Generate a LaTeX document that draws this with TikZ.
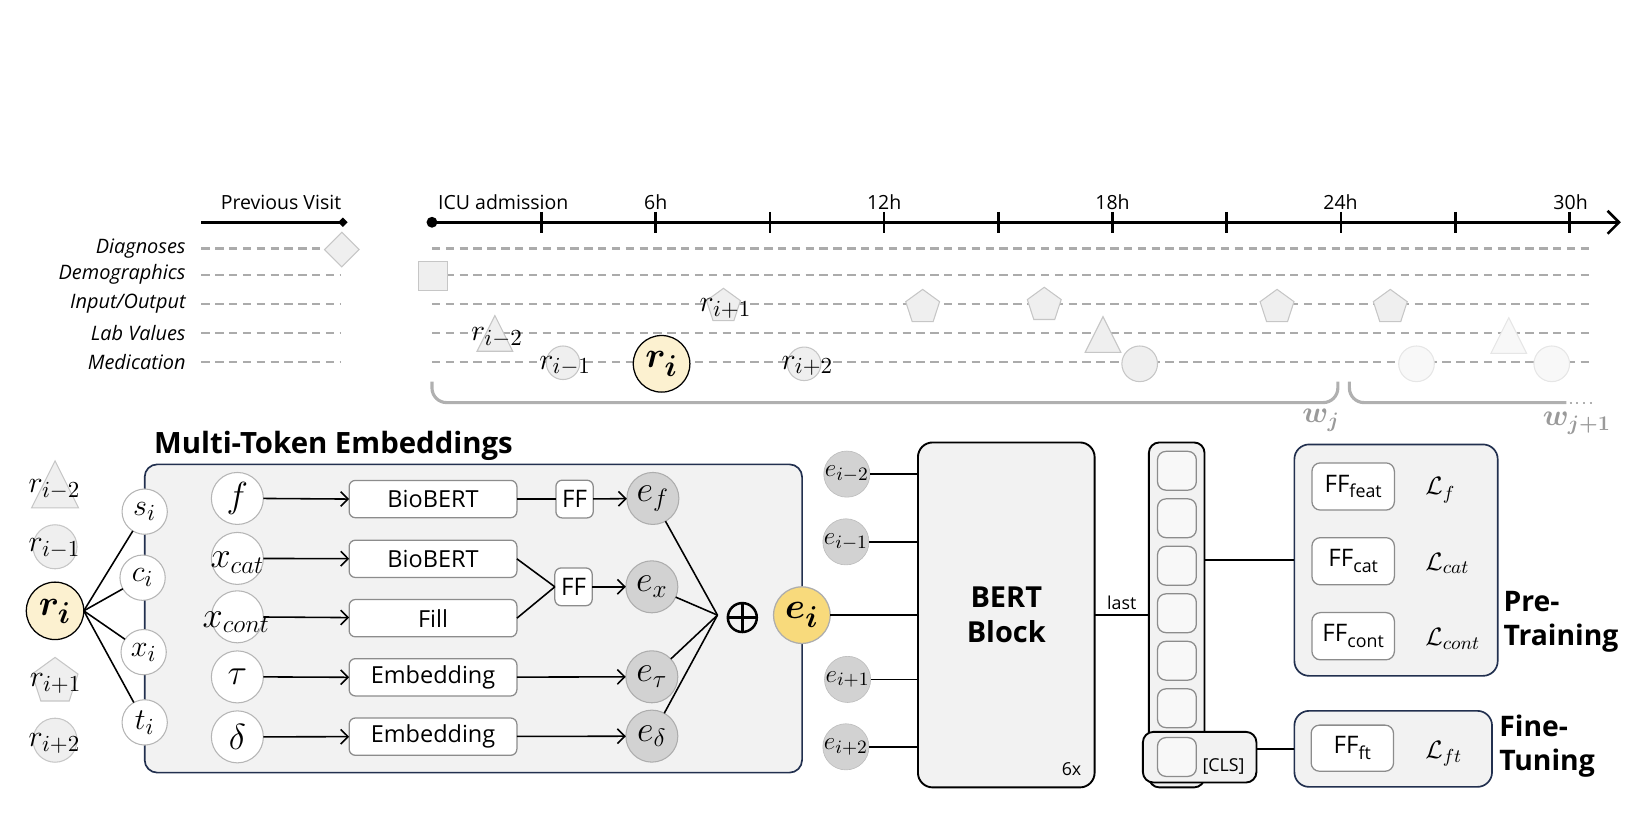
\documentclass[tikz,border=0pt]{standalone}
\usepackage{fontspec}
\setmainfont{Open Sans}
\usepackage{bm}
\usetikzlibrary{shapes.geometric,arrows.meta,calc}
\definecolor{navy}{HTML}{22304F}
\definecolor{boxfill}{HTML}{F2F2F2}
\definecolor{shpfill}{HTML}{EFEFEF}
\definecolor{shpdraw}{HTML}{C6C6C6}
\definecolor{faintfill}{HTML}{F8F8F8}
\definecolor{faintdraw}{HTML}{E6E6E6}
\definecolor{egrey}{HTML}{D2D2D2}
\definecolor{egreyd}{HTML}{ADADAD}
\definecolor{gold}{HTML}{F8DA7C}
\definecolor{cream}{HTML}{FCF1D0}
\definecolor{dashgrey}{HTML}{ABABAB}
\definecolor{bracegrey}{HTML}{B0B0B0}
\definecolor{wgrey}{HTML}{9A9A9A}
\definecolor{boxgrey}{HTML}{8C8C8C}
\definecolor{wcircd}{HTML}{B5B5B5}
\newcommand\ffsub[1]{\raisebox{-0.45ex}{\fontsize{8.5}{9}\selectfont #1}}
\begin{document}
\begin{tikzpicture}[x=0.5pt,y=-0.5pt,
  every node/.style={inner sep=0pt, outer sep=0pt},
  shp/.style={fill=shpfill, draw=shpdraw, line width=0.5pt},
  faint/.style={fill=faintfill, draw=faintdraw, line width=0.5pt},
  rowlbl/.style={anchor=east, font=\fontsize{9.5}{11}\selectfont\itshape},
  axlbl/.style={font=\fontsize{9.3}{11}\selectfont},
  rowline/.style={draw=dashgrey, line width=1pt, dash pattern=on 4pt off 2.6pt},
  pentnode/.style={regular polygon, regular polygon sides=5, minimum size=17pt},
  tri/.pic={\path[pic actions] (-17,17) -- (0,-17) -- (17,17) -- cycle;},
  mA/.style={font=\fontsize{15}{17}\selectfont},
  mB/.style={font=\fontsize{17.5}{19}\selectfont},
  mE/.style={font=\fontsize{12.5}{14}\selectfont},
  big/.style={font=\fontsize{19}{21}\selectfont},
  conn/.style={draw=black, line width=0.75pt},
  arr/.style={conn, -{Straight Barb[length=3.5pt,width=7pt,line width=0.75pt]}},
  wcirc/.style={circle, draw=wcircd, fill=white, line width=0.5pt},
  ecirc/.style={circle, fill=egrey, draw=egreyd, line width=0.5pt, minimum size=24.8pt},
  ecirc2/.style={circle, fill=egrey, draw=egrey!90!black, line width=0.3pt, minimum size=22pt},
  procbox/.style={rectangle, rounded corners=3pt, draw=boxgrey, fill=white, line width=0.6pt,
     minimum width=80pt, minimum height=17.8pt, font=\fontsize{11.2}{13}\selectfont},
  ffbox/.style={procbox, minimum width=17.8pt, minimum height=18pt, font=\fontsize{11.5}{13}\selectfont},
  ffbig/.style={procbox, minimum width=39.3pt, minimum height=22.5pt, rounded corners=4pt, font=\fontsize{11.5}{13}\selectfont},
  navybox/.style={rectangle, rounded corners=7pt, draw=navy, fill=boxfill, line width=0.8pt},
  blackbox/.style={rectangle, rounded corners=7pt, draw=black, fill=boxfill, line width=0.9pt},
  tok/.style={rectangle, rounded corners=4pt, draw=boxgrey, fill=boxfill!50!white, line width=0.6pt, minimum size=18.5pt},
  smalltxt/.style={font=\fontsize{8.5}{10}\selectfont},
  loss/.style={anchor=west, font=\fontsize{12.5}{14}\selectfont},
  bold/.style={anchor=west, align=left, font=\fontsize{13.5}{16.2}\selectfont\bfseries},
]
\useasboundingbox (0,0) rectangle (1568,790);

% ---------------- timeline ----------------
\node[axlbl] (pvlbl) at (268,193) {Previous Visit};
\coordinate (pvs) at (192,212);
\coordinate (pve) at (327,212);
\draw[line width=1.25pt] (pvs) -- (pve);
\node[diamond, fill=black, minimum width=4.5pt, minimum height=4.5pt] (pvd) at (pve) {};

\node[rowlbl] (lDiag) at (177,237) {Diagnoses};
\node[rowlbl] (lDemo) at (177,262) {Demographics};
\node[rowlbl] (lIO) at (177,290) {Input/Output};
\node[rowlbl] (lLab) at (177,318) {Lab Values};
\node[rowlbl] (lMed) at (177,345) {Medication};
\foreach \y in {237,262,290,318,345} {
  \draw[rowline] (192,\y) -- (325,\y);
  \draw[rowline] (412,\y) -- (1520,\y);
}

\node[circle, fill=black, minimum size=5.2pt] (icu) at (412,212) {};
\coordinate (axend) at (1546,212);
\draw[line width=1.25pt, -{Straight Barb[length=5.5pt,width=11pt,line width=1.25pt]}] (icu.center) -- (axend);
\foreach \k in {0,...,9} {
  \draw[line width=1.25pt] ({516.5+108.93*\k},202) -- ({516.5+108.93*\k},222);
}
\node[axlbl] (tICU) at (480,193) {ICU admission};
\node[axlbl] (t6) at (625.4,193) {6h};
\node[axlbl] (t12) at (843.3,193) {12h};
\node[axlbl] (t18) at (1061.1,193) {18h};
\node[axlbl] (t24) at (1278.5,193) {24h};
\node[axlbl] (t30) at (1498,193) {30h};

% events
\node[diamond, shp, minimum width=16.5pt, minimum height=16.5pt] (dg) at (326,238) {};
\node[rectangle, shp, minimum size=14pt] (dm) at (413,263) {};
\pic[shp] at (472,318) {tri};
\node[circle, shp, minimum size=16pt] (ec1) at (537,346) {};
\node[circle, draw=black, line width=0.6pt, fill=cream, minimum size=27pt] (ritop) at (631,347) {};
\node[pentnode, shp] (ep1) at (690,292) {};
\node[circle, shp, minimum size=16pt] (ec2) at (767,347) {};
\node[pentnode, shp] (ep2) at (880,293) {};
\node[pentnode, shp] (ep3) at (996,291) {};
\pic[shp] at (1052,319) {tri};
\node[circle, shp, minimum size=17pt] (ec3) at (1087,347) {};
\node[pentnode, shp] (ep4) at (1218,293) {};
\node[pentnode, shp] (ep5) at (1326,293) {};
\node[circle, faint, minimum size=17pt] (ec4) at (1351,347) {};
\pic[faint] at (1439,320) {tri};
\node[circle, faint, minimum size=17pt] (ec5) at (1480,347) {};

\node[mA] (lrm2) at (474,322) {$r_{i-2}$};
\node[mA] (lrm1) at (539,349) {$r_{i-1}$};
\node[big] (lri) at (631,347) {$\bm{r_i}$};
\node[mA] (lrp1) at (692,294) {$r_{i+1}$};
\node[mA] (lrp2) at (770,349) {$r_{i+2}$};

% braces
\draw[bracegrey, line width=1.5pt, rounded corners=7pt] (412,364) -- (412,384) -- (1276,384) -- (1276,364);
\draw[bracegrey, line width=1.5pt, rounded corners=7pt] (1287,364) -- (1287,384) -- (1494,384);
\draw[bracegrey, line width=1pt, dash pattern=on 1pt off 2.2pt] (1497,384) -- (1522,384);
\node[font=\fontsize{14}{15}\selectfont, text=wgrey] (wj) at (1260,401) {$\bm{w_j}$};
\node[font=\fontsize{14}{15}\selectfont, text=wgrey] (wj1) at (1504,404) {$\bm{w_{j+1}}$};

% ---------------- multi-token embeddings ----------------
\node[anchor=west, font=\fontsize{14}{16}\selectfont\bfseries] (mtitle) at (147,425) {Multi-Token Embeddings};
\node[navybox, rounded corners=6pt, minimum width=313.5pt, minimum height=147pt] (mte) at (451.5,589.9) {};

% left records
\pic[shp, scale=1.32] at (52.5,462) {tri};
\node[circle, shp, minimum size=21pt] (lc1) at (52.5,521.5) {};
\node[circle, draw=black, line width=0.6pt, fill=cream, minimum size=27.4pt] (ri) at (52.5,582.6) {};
\node[regular polygon, regular polygon sides=5, shp, minimum size=23pt] (lp) at (52.5,650) {};
\node[circle, shp, minimum size=21pt] (lc2) at (52.5,706) {};
\node[mA] (llm2) at (52,467) {$r_{i-2}$};
\node[mA] (llm1) at (52,523) {$r_{i-1}$};
\node[big] (llri) at (52.5,583) {$\bm{r_i}$};
\node[mA] (llp1) at (53,652) {$r_{i+1}$};
\node[mA] (llp2) at (52,709) {$r_{i+2}$};

% token circles
\node[wcirc, minimum size=21.6pt] (si) at (138,488) {};
\node[wcirc, minimum size=21.6pt] (ci) at (136,551) {};
\node[wcirc, minimum size=21.6pt] (xi) at (137,622) {};
\node[wcirc, minimum size=21.6pt] (ti) at (138,689) {};
\node[font=\fontsize{15}{16}\selectfont] at (si) {$s_i$};
\node[font=\fontsize{15}{16}\selectfont] at (ci) {$c_i$};
\node[font=\fontsize{15}{16}\selectfont] at (xi) {$x_i$};
\node[font=\fontsize{15}{16}\selectfont] at (ti) {$t_i$};
\draw[conn] (ri.east) -- (si);
\draw[conn] (ri.east) -- (ci);
\draw[conn] (ri.east) -- (xi);
\draw[conn] (ri.east) -- (ti);

% inputs
\node[wcirc, minimum size=24.8pt] (fin) at (226.4,475.4) {};
\node[wcirc, minimum size=24.8pt] (xcat) at (226.4,532.6) {};
\node[wcirc, minimum size=24.8pt] (xcont) at (226.4,588.3) {};
\node[wcirc, minimum size=24.8pt] (tau) at (226.4,645.6) {};
\node[wcirc, minimum size=24.8pt] (del) at (226.4,702.8) {};

\node[procbox] (bb1) at (413,476) {BioBERT};
\node[procbox] (bb2) at (413,533) {BioBERT};
\node[procbox] (fill) at (413,589.6) {Fill};
\node[procbox] (emb1) at (413,646) {Embedding};
\node[procbox] (emb2) at (413,702.6) {Embedding};
\node[ffbox] (ff1) at (548,476) {FF};
\node[ffbox] (ff2) at (547,559.7) {FF};

\node[ecirc] (ef) at (622.7,475.4) {};
\node[ecirc] (ex) at (621.7,559.7) {};
\node[ecirc] (etau) at (621.7,645.5) {};
\node[ecirc] (edel) at (621.7,702.1) {};

\draw[arr] (fin.east) -- (bb1.west);
\draw[arr] (xcat) -- (bb2);
\draw[arr] (xcont) -- (fill);
\draw[arr] (tau.east) -- (emb1.west);
\draw[arr] (del.east) -- (emb2.west);
\node[mB] at (fin) {$f$};
\node[font=\fontsize{18.5}{20}\selectfont] at ($(xcat)+(0,4)$) {$x_{cat}$};
\node[font=\fontsize{18.5}{20}\selectfont] at ($(xcont)+(-1,5)$) {$x_{cont}$};
\node[mB] at (tau) {$\tau$};
\node[mB] at (del) {$\delta$};

\draw[conn] (bb1) -- (ff1);
\draw[arr] (ff1) -- (ef);
\draw[conn] (bb2.east) -- (ff2.west);
\draw[conn] (fill.east) -- (ff2.west);
\draw[arr] (ff2) -- (ex);
\draw[arr] (emb1) -- (etau);
\draw[arr] (emb2) -- (edel);
\node[font=\fontsize{17}{18}\selectfont] at (ef) {$e_f$};
\node[font=\fontsize{17}{18}\selectfont] at (ex) {$e_x$};
\node[font=\fontsize{17}{18}\selectfont] at (etau) {$e_\tau$};
\node[font=\fontsize{17}{18}\selectfont] at (edel) {$e_\delta$};

\coordinate (conv) at (684.3,586.7);
\draw[conn] (ef) -- (conv);
\draw[conn] (ex) -- (conv);
\draw[conn] (etau) -- (conv);
\draw[conn] (edel) -- (conv);
\node[circle, draw=black, line width=1.2pt, minimum size=13.8pt] (op) at (708,589) {};
\draw[line width=1.2pt] (op.north) -- (op.south) (op.west) -- (op.east);

\node[circle, fill=gold, draw=egreyd, line width=0.6pt, minimum size=27pt] (ei) at (764.8,586.7) {};
\node[big] at (ei) {$\bm{e_i}$};

% ---------------- BERT ----------------
\node[blackbox, minimum width=84.25pt, minimum height=164.5pt, align=center,
      font=\fontsize{13.8}{16.7}\selectfont\bfseries] (bert) at (959.75,586.5) {BERT\\Block};
\node[smalltxt] (six) at (1022,734) {6x};

\node[ecirc2] (em2) at (807.7,452.2) {};
\node[ecirc2] (em1) at (806.8,516.8) {};
\node[ecirc2] (ep1b) at (808.4,648) {};
\node[ecirc2] (ep2b) at (806.8,712.3) {};
\node[mE] at (em2) {$e_{i-2}$};
\node[mE] at (em1) {$e_{i-1}$};
\node[mE] at (ep1b) {$e_{i+1}$};
\node[mE] at (ep2b) {$e_{i+2}$};
\draw[conn] (em2) -- (em2 -| bert.west);
\draw[conn] (em1) -- (em1 -| bert.west);
\draw[conn] (ei) -- (ei -| bert.west);
\draw[conn] (ep1b) -- (ep1b -| bert.west);
\draw[conn] (ep2b) -- (ep2b -| bert.west);

% output column
\node[blackbox, rounded corners=5pt, minimum width=26.55pt, minimum height=164.5pt] (col) at (1122.3,586.5) {};
\foreach \i/\y in {1/449,2/494.3,3/539.6,4/584.9,5/630.2,6/675.5} {
  \node[tok] (tok\i) at (1122.5,\y) {};
}
\node[blackbox, rounded corners=5pt, minimum width=54.15pt, minimum height=24.15pt] (cls) at (1144.2,722.2) {};
\node[tok] (tokcls) at (1122.5,722) {};
\node[smalltxt] (clslbl) at (1167,731.4) {[CLS]};

\draw[conn] (bert.east |- ei) -- node[above=2.5pt, smalltxt] {last} (col.west |- ei);

% ---------------- heads ----------------
\node[navybox, minimum width=96.95pt, minimum height=110.35pt] (pre) at (1331.5,534.25) {};
\node[ffbig] (fffeat) at (1290.6,464) {FF\ffsub{feat}};
\node[ffbig] (ffcat) at (1290.6,535.3) {FF\ffsub{cat}};
\node[ffbig] (ffcont) at (1290.6,606.8) {FF\ffsub{cont}};
\node[loss] (lf) at (1359.5,467.5) {$\mathcal{L}_f$};
\node[loss] (lcat) at (1359.5,537.4) {$\mathcal{L}_{cat}$};
\node[loss] (lcont) at (1359.5,609) {$\mathcal{L}_{cont}$};
\node[bold] (ptl) at (1434,593) {Pre-\\Training};

\node[navybox, minimum width=94.25pt, minimum height=36.25pt] (ft) at (1328.8,714.25) {};
\node[ffbig, minimum height=22pt] (ffft) at (1289.8,713.6) {FF\ffsub{ft}};
\node[loss] (lft) at (1359.5,718.7) {$\mathcal{L}_{ft}$};
\node[bold] (ftl) at (1430,712) {Fine-\\Tuning};

\draw[conn] (pre.west) -- (pre.west -| col.east);
\draw[conn] (ft.west) -- (ft.west -| cls.east);
\end{tikzpicture}
\end{document}
